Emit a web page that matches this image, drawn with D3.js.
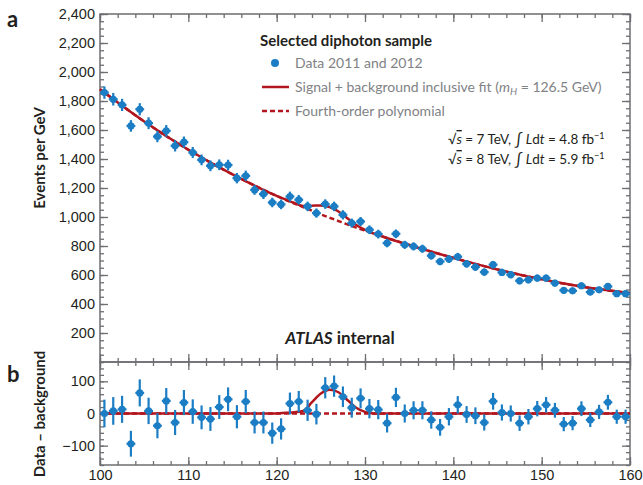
<!DOCTYPE html>
<meta charset="utf-8">
<style>

body {
  margin: 0;
  background: #fff;
}

svg {
  display: block;
  font-family: "Lato", "Open Sans", sans-serif;
}

.axis text {
  font-size: 14.5px;
  fill: #231f20;
}

.axis line {
  stroke: #6d6e71;
  stroke-width: 1.3;
}

.axis .domain {
  display: none;
}

.legend {
  font-size: 14px;
  fill: #808285;
}

</style>
<svg width="643" height="485"></svg>
<script src="https://d3js.org/d3.v7.min.js"></script>
<script>

// Bin centres (GeV), 1 GeV bins from 100 to 160.
var mass = [100.5, 101.5, 102.5, 103.5, 104.5, 105.5, 106.5, 107.5, 108.5, 109.5,
            110.5, 111.5, 112.5, 113.5, 114.5, 115.5, 116.5, 117.5, 118.5, 119.5,
            120.5, 121.5, 122.5, 123.5, 124.5, 125.5, 126.5, 127.5, 128.5, 129.5,
            130.5, 131.5, 132.5, 133.5, 134.5, 135.5, 136.5, 137.5, 138.5, 139.5,
            140.5, 141.5, 142.5, 143.5, 144.5, 145.5, 146.5, 147.5, 148.5, 149.5,
            150.5, 151.5, 152.5, 153.5, 154.5, 155.5, 156.5, 157.5, 158.5, 159.5];

// Events per GeV (top panel).
var events = [1858, 1812, 1773, 1628, 1743, 1647, 1555, 1594, 1491, 1516,
              1445, 1394, 1353, 1360, 1358, 1268, 1284, 1187, 1158, 1100,
              1087, 1141, 1119, 1073, 1027, 1089, 1073, 1015, 958, 969,
              912, 882, 820, 884, 808, 797, 781, 733, 693, 710,
              726, 677, 655, 620, 671, 618, 602, 560, 567, 579,
              579, 544, 494, 491, 526, 482, 498, 521, 471, 471];

// Statistical error on each bin.
var errors = [43, 43, 42, 40, 42, 41, 39, 40, 39, 39,
              38, 37, 37, 37, 37, 36, 36, 34, 34, 33,
              33, 34, 33, 33, 32, 33, 33, 32, 31, 31,
              30, 30, 29, 30, 28, 28, 28, 27, 26, 27,
              27, 26, 26, 25, 26, 25, 25, 24, 24, 24,
              24, 23, 22, 22, 23, 22, 22, 23, 22, 22];

// Data - background (bottom panel).
var residual = [0, 8, 13, -94, 64, 8, -38, 39, -28, 34,
                6, -12, -17, 20, 44, -10, 37, -28, -28, -61,
                -48, 31, 37, 10, -2, 80, 85, 52, 18, 47,
                15, 12, -30, 50, 0, 10, 10, -20, -43, -10,
                27, -3, -7, -28, 38, 3, 0, -30, -10, 15,
                27, 10, -33, -30, 15, -20, 5, 35, -10, -10];

// Fit curves, sampled at these masses.
var curveMass = [100, 105, 110, 115, 120, 121, 122, 123, 124, 125, 126,
                 127, 128, 129, 130, 131, 135, 140, 145, 150, 155, 160];
var bkgCurve  = [1881, 1659, 1464, 1294, 1146, 1119, 1093, 1068, 1043, 1018, 995,
                 972, 949, 927, 906, 886, 807, 718, 638, 570, 515, 475];
var fitCurve  = [1881, 1659, 1464, 1294, 1146, 1121, 1097, 1076, 1078, 1080, 1069,
                 1038, 991, 945, 911, 886, 807, 718, 638, 570, 515, 475];
var sigCurve  = [0, 0, 0, 0, 0, 2, 4, 8, 35, 62, 74,
                 66, 42, 18, 5, 0, 0, 0, 0, 0, 0, 0];

var xTicks = [100, 110, 120, 130, 140, 150, 160],
    yTopTicks = [200, 400, 600, 800, 1000, 1200, 1400, 1600, 1800, 2000, 2200, 2400],
    yBotTicks = [-100, 0, 100];

var blue = "#1b7dc3",
    red = "#b2161e",
    frameColor = "#6d6e71";

var svg = d3.select("svg");

var left = 100, right = 630,
    topY0 = 14, topY1 = 362,
    botY1 = 465;

var x = d3.scaleLinear().domain([100, 160]).range([left, right]);
var yTop = d3.scaleLinear().domain([0, 2400]).range([topY1, topY0]);
var yBot = d3.scaleLinear().domain([-160, 160]).range([botY1, topY1]);

var xMinor = d3.range(100, 161, 2);

// frames and ticks
function panel(y, top, bottom, major, minor, fmt, xLabels) {
  var g = svg.append("g").attr("class", "axis");

  g.append("g").attr("transform", "translate(" + left + ",0)")
      .call(d3.axisLeft(y).tickValues(minor).tickSize(-4).tickFormat(""));
  g.append("g").attr("transform", "translate(" + left + ",0)")
      .call(d3.axisLeft(y).tickValues(major).tickSize(-8).tickPadding(5).tickFormat(fmt));
  g.append("g").attr("transform", "translate(" + right + ",0)")
      .call(d3.axisRight(y).tickValues(minor).tickSize(-4).tickFormat(""));
  g.append("g").attr("transform", "translate(" + right + ",0)")
      .call(d3.axisRight(y).tickValues(major).tickSize(-8).tickFormat(""));

  g.append("g").attr("transform", "translate(0," + top + ")")
      .call(d3.axisTop(x).tickValues(xMinor).tickSize(-4).tickFormat(""));
  g.append("g").attr("transform", "translate(0," + top + ")")
      .call(d3.axisTop(x).tickValues(xTicks).tickSize(-8).tickFormat(""));
  g.append("g").attr("transform", "translate(0," + bottom + ")")
      .call(d3.axisBottom(x).tickValues(xMinor).tickSize(-4).tickFormat(""));
  g.append("g").attr("transform", "translate(0," + bottom + ")")
      .call(d3.axisBottom(x).tickValues(xTicks).tickSize(-8).tickPadding(5)
        .tickFormat(xLabels ? d3.format("d") : ""));

  g.append("rect")
      .attr("x", left)
      .attr("y", top)
      .attr("width", right - left)
      .attr("height", bottom - top)
      .attr("fill", "none")
      .attr("stroke", frameColor)
      .attr("stroke-width", 1.5);
}

panel(yTop, topY0, topY1, yTopTicks, d3.range(0, 2401, 50), d3.format(","), false);
panel(yBot, topY1, botY1, yBotTicks, d3.range(-160, 161, 20), d3.format("d"), true);

// curves
var pts = function(vals) { return curveMass.map(function(m, i) { return [m, vals[i]]; }); };

var lineTop = d3.line()
    .x(function(d) { return x(d[0]); })
    .y(function(d) { return yTop(d[1]); })
    .curve(d3.curveMonotoneX);

var lineBot = d3.line()
    .x(function(d) { return x(d[0]); })
    .y(function(d) { return yBot(d[1]); })
    .curve(d3.curveMonotoneX);

svg.append("path")
    .attr("d", lineTop(pts(bkgCurve)))
    .attr("fill", "none")
    .attr("stroke", red)
    .attr("stroke-width", 2.5)
    .attr("stroke-dasharray", "5,3");

svg.append("path")
    .attr("d", lineTop(pts(fitCurve)))
    .attr("fill", "none")
    .attr("stroke", red)
    .attr("stroke-width", 2.5);

svg.append("path")
    .attr("d", lineBot([[100, 0], [160, 0]]))
    .attr("fill", "none")
    .attr("stroke", red)
    .attr("stroke-width", 2.5)
    .attr("stroke-dasharray", "5,3");

svg.append("path")
    .attr("d", lineBot(pts(sigCurve)))
    .attr("fill", "none")
    .attr("stroke", red)
    .attr("stroke-width", 2.5);

// data points with error bars
function points(y, vals) {
  var g = svg.append("g")
    .selectAll("g")
    .data(mass)
    .enter().append("g");

  g.append("line")
      .attr("x1", function(d) { return x(d); })
      .attr("x2", function(d) { return x(d); })
      .attr("y1", function(d, i) { return y(vals[i] - errors[i]); })
      .attr("y2", function(d, i) { return y(vals[i] + errors[i]); })
      .attr("stroke", blue)
      .attr("stroke-width", 2.2);

  g.append("line")
      .attr("x1", function(d) { return x(d - 0.5); })
      .attr("x2", function(d) { return x(d + 0.5); })
      .attr("y1", function(d, i) { return y(vals[i]); })
      .attr("y2", function(d, i) { return y(vals[i]); })
      .attr("stroke", blue)
      .attr("stroke-width", 2.2);

  g.append("circle")
      .attr("cx", function(d) { return x(d); })
      .attr("cy", function(d, i) { return y(vals[i]); })
      .attr("r", 3.6)
      .attr("fill", blue);
}

points(yTop, events);
points(yBot, residual);

// panel letters and axis titles
svg.append("text").attr("x", 7).attr("y", 27)
    .attr("font-size", 22).attr("font-weight", "bold").attr("fill", "#231f20").text("a");
svg.append("text").attr("x", 7).attr("y", 382)
    .attr("font-size", 22).attr("font-weight", "bold").attr("fill", "#231f20").text("b");

svg.append("text")
    .attr("transform", "translate(45,158) rotate(-90)")
    .attr("text-anchor", "middle")
    .attr("font-size", 15).attr("font-weight", "bold").attr("fill", "#231f20")
    .text("Events per GeV");

svg.append("text")
    .attr("transform", "translate(45,414) rotate(-90)")
    .attr("text-anchor", "middle")
    .attr("font-size", 15).attr("font-weight", "bold").attr("fill", "#231f20")
    .text("Data \u2013 background");

// legend
svg.append("text").attr("x", 260).attr("y", 46)
    .attr("font-size", 15).attr("font-weight", "bold").attr("fill", "#231f20")
    .text("Selected diphoton sample");

svg.append("circle").attr("cx", 275).attr("cy", 63).attr("r", 4).attr("fill", blue);
svg.append("text").attr("class", "legend").attr("x", 295).attr("y", 68).text("Data 2011 and 2012");

svg.append("line").attr("x1", 262).attr("x2", 289).attr("y1", 87).attr("y2", 87)
    .attr("stroke", red).attr("stroke-width", 2.5);
var t2 = svg.append("text").attr("class", "legend").attr("x", 295).attr("y", 92);
t2.append("tspan").text("Signal + background inclusive fit (");
t2.append("tspan").attr("font-style", "italic").text("m");
t2.append("tspan").attr("font-style", "italic").attr("font-size", 10).attr("dy", 3).text("H");
t2.append("tspan").attr("dy", -3).text(" = 126.5 GeV)");

svg.append("line").attr("x1", 262).attr("x2", 289).attr("y1", 111).attr("y2", 111)
    .attr("stroke", red).attr("stroke-width", 2.5).attr("stroke-dasharray", "5,3");
svg.append("text").attr("class", "legend").attr("x", 295).attr("y", 116).text("Fourth-order polynomial");

// energy / luminosity labels
function lumiLine(yy, energy, lumi) {
  var t = svg.append("text").attr("x", 448).attr("y", yy)
      .attr("font-size", 13.5).attr("fill", "#231f20");
  t.append("tspan").text("\u221a");
  t.append("tspan").attr("font-style", "italic").attr("text-decoration", "overline").text("s");
  t.append("tspan").text(" = " + energy + " TeV, ");
  t.append("tspan").attr("font-size", 16).attr("dy", 1).text("\u222b");
  t.append("tspan").attr("dy", -1).attr("font-style", "italic").text(" L");
  t.append("tspan").text("d");
  t.append("tspan").attr("font-style", "italic").text("t");
  t.append("tspan").text(" = " + lumi + " fb");
  t.append("tspan").attr("font-size", 9).attr("dy", -5).text("\u22121");
}

lumiLine(144, 7, "4.8");
lumiLine(164, 8, "5.9");

var atlas = svg.append("text").attr("x", 340).attr("y", 344)
    .attr("text-anchor", "middle")
    .attr("font-size", 17).attr("font-weight", "bold").attr("fill", "#231f20");
atlas.append("tspan").attr("font-style", "italic").text("ATLAS");
atlas.append("tspan").text(" internal");

</script>
